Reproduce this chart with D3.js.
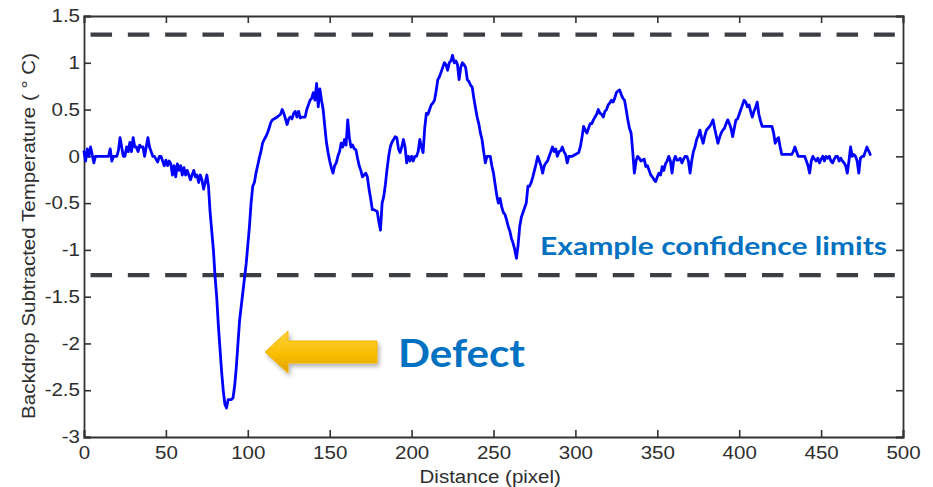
<!DOCTYPE html>
<html>
<head>
<meta charset="utf-8">
<script src="https://cdn.jsdelivr.net/npm/d3@7"></script>
<style>
  html, body { margin: 0; padding: 0; background: #fff; }
  svg { display: block; }
</style>
</head>
<body>
<svg id="chart" width="933" height="487"></svg>
<script>
// ---------------- data ----------------
const distance = [
  0,1,2,3,4,5,6,7,8,10,12,14,15,16,17,18,20,21,22,23,24,25,26,27,28,29,30,31,32,33,34,35,36,37,38,39,40,
  41,42,43,45,46,47,48,49,50,51,52,53,54,55,56,57,58,59,60,61,62,63,64,65,66,67,68,69,70,71,72,73,74,75,
  76,77,78,79,80,81,82,83,84,85,86,87,88,90,91,92,93,94,95,96,97,98,99,100,101,102,103,104,105,106,107,
  108,109,110,111,112,113,114,115,116,118,120,121,122,123,124,125,126,127,128,129,130,131,132,133,135,
  136,137,138,139,140,141,142,143,144,145,146,147,148,149,150,151,152,153,154,155,156,157,158,159,160,
  161,162,163,164,165,166,167,168,169,170,171,172,173,174,175,176,177,178,179,180,181,182,183,184,185,
  186,187,188,189,190,191,192,193,194,195,196,197,198,199,200,201,202,203,204,205,206,207,208,209,210,
  211,212,213,214,215,216,217,218,219,220,221,222,223,224,225,226,227,228,229,230,231,232,233,234,235,
  236,237,238,239,240,241,242,243,244,245,246,247,248,249,250,251,252,253,254,255,256,257,258,259,260,
  261,262,263,264,265,266,267,268,269,270,271,272,273,274,275,276,277,278,279,280,281,282,283,284,285,
  286,287,288,289,290,291,292,293,294,295,296,297,298,300,302,303,304,305,306,307,308,309,310,311,312,
  313,314,315,316,317,318,319,320,321,322,323,324,325,326,327,328,329,330,331,332,333,334,335,336,337,
  338,339,340,341,342,343,344,345,346,347,348,349,350,351,352,353,354,355,356,357,358,359,360,361,362,
  363,364,365,366,367,368,369,370,371,372,373,374,375,376,377,378,379,380,381,382,383,384,385,386,387,
  388,389,390,391,392,393,394,395,396,397,398,399,400,401,402,403,404,405,406,407,408,409,410,411,412,
  413,414,416,418,420,421,422,423,424,425,426,428,430,432,433,434,435,436,437,438,439,440,441,442,443,
  444,445,446,447,448,449,450,451,452,453,454,455,456,457,458,459,460,461,462,463,464,465,466,467,468,
  469,470,471,472,473,474,475,476,477,478,479,480
];
const temperature = [
  0.05,-0.05,0.08,0.0,0.1,0.02,-0.07,0.0,0.0,0.0,0.0,0.0,0.0,0.08,-0.05,0.0,0.0,0.06,0.2,0.1,0.0,0.0,0.1,0.05,0.15,0.05,0.2,0.1,0.1,0.05,0.12,0.1,0.1,0.0,0.1,0.2,0.1,
  0.05,0.0,0.0,-0.06,0.0,0.0,-0.05,-0.1,-0.04,-0.1,-0.05,-0.08,-0.2,-0.1,-0.22,-0.08,-0.15,-0.1,-0.2,-0.12,-0.2,-0.15,-0.2,-0.25,-0.2,-0.15,-0.22,-0.2,-0.28,-0.2,-0.25,-0.35,-0.28,-0.2,
  -0.32,-0.6,-0.8,-1.0,-1.28,-1.5,-1.8,-2.05,-2.3,-2.5,-2.65,-2.69,-2.6,-2.6,-2.58,-2.45,-2.25,-2.0,-1.75,-1.6,-1.45,-1.3,-1.15,-0.95,-0.75,-0.5,-0.32,-0.28,-0.18,-0.1,-0.02,
  0.05,0.14,0.18,0.21,0.25,0.3,0.36,0.39,0.4,0.42,0.45,0.5,0.46,0.4,0.34,0.4,0.42,0.4,0.46,0.48,0.42,0.48,0.41,0.42,0.42,
  0.5,0.55,0.6,0.62,0.68,0.6,0.78,0.53,0.72,0.6,0.5,0.32,0.15,0.04,-0.05,-0.12,-0.18,-0.1,-0.07,0.0,0.05,0.14,0.1,0.18,0.12,
  0.39,0.2,0.1,0.12,0.08,0.07,-0.02,-0.1,-0.15,-0.22,-0.2,-0.18,-0.22,-0.35,-0.45,-0.57,-0.57,-0.58,-0.59,-0.7,-0.79,-0.5,-0.43,-0.3,-0.14,
  0.0,0.1,0.15,0.18,0.21,0.2,0.08,0.04,0.1,0.18,0.1,-0.07,0.0,-0.05,0.0,-0.05,0.0,0.0,0.05,0.18,0.1,0.04,0.3,0.46,0.45,
  0.5,0.55,0.57,0.6,0.7,0.82,0.85,0.9,0.95,1.0,0.98,0.92,1.0,1.02,1.08,1.0,1.02,0.98,0.82,0.95,1.0,0.98,0.95,0.82,0.8,
  0.76,0.74,0.62,0.52,0.42,0.35,0.25,0.18,0.05,-0.07,0.0,0.0,0.0,-0.1,-0.18,-0.3,-0.42,-0.5,-0.45,-0.54,-0.6,-0.62,-0.68,-0.75,-0.8,
  -0.88,-0.93,-1.0,-1.09,-0.95,-0.75,-0.65,-0.6,-0.55,-0.5,-0.32,-0.32,-0.28,-0.22,-0.15,-0.08,0.0,-0.05,-0.1,-0.18,-0.1,-0.07,-0.05,0.0,0.05,
  0.1,0.05,0.08,0.0,0.05,0.06,0.1,0.05,0.02,-0.07,0.0,0.0,0.0,0.02,0.04,0.1,0.2,0.32,0.28,0.25,0.3,0.35,0.35,0.39,0.42,
  0.45,0.5,0.46,0.45,0.42,0.48,0.5,0.55,0.57,0.6,0.58,0.62,0.68,0.7,0.71,0.66,0.62,0.6,0.5,0.39,0.3,0.25,0.05,-0.18,-0.05,
  0.0,-0.02,-0.05,-0.04,-0.03,-0.11,-0.1,-0.15,-0.2,-0.22,-0.25,-0.27,-0.22,-0.18,-0.2,-0.11,-0.15,-0.08,-0.05,0.0,-0.05,-0.18,-0.05,0.0,-0.04,
  -0.04,-0.02,-0.07,-0.03,0.0,0.0,-0.05,-0.18,-0.05,0.05,0.1,0.18,0.22,0.28,0.2,0.14,0.22,0.28,0.3,0.32,0.35,0.39,0.3,0.22,0.14,
  0.2,0.25,0.28,0.3,0.35,0.39,0.35,0.3,0.21,0.3,0.39,0.4,0.45,0.5,0.55,0.6,0.58,0.53,0.55,0.48,0.42,0.48,0.52,0.58,0.45,
  0.38,0.32,0.32,0.32,0.32,0.25,0.14,0.18,0.2,0.1,0.02,0.02,0.02,0.02,0.05,0.1,0.05,0.0,0.0,0.0,0.0,0.0,-0.05,-0.1,-0.18,
  -0.05,0.0,-0.03,-0.05,-0.02,-0.07,-0.03,0.0,-0.05,0.0,-0.02,0.0,-0.05,-0.07,-0.03,0.0,0.0,-0.05,-0.02,-0.05,-0.07,-0.1,-0.18,-0.05,0.1,
  0.0,0.02,0.0,-0.05,-0.18,-0.02,0.0,0.0,0.05,0.1,0.06,0.02
];
const xTicks = [0, 50, 100, 150, 200, 250, 300, 350, 400, 450, 500];
const yTicks = [-3, -2.5, -2, -1.5, -1, -0.5, 0, 0.5, 1, 1.5];
const confidenceLimits = [1.3, -1.27];
const limitExtent = [4, 495];
const xLabel = "Distance (pixel)";
const yLabel = "Backdrop Subtracted Temperature ( ° C)";
const limitNote = "Example confidence limits";
const defectNote = "Defect";

// ---------------- layout ----------------
const W = 933, H = 487;
const margin = { left: 84, right: 30, top: 16, bottom: 50 };
const svg = d3.select("#chart");

const x = d3.scaleLinear().domain([0, 500]).range([margin.left, W - margin.right]);
const y = d3.scaleLinear().domain([-3, 1.5]).range([H - margin.bottom, margin.top]);

const axisColor = "#333";
const textColor = "#2e2e2e";
const tickLen = 7;
const stretch = 1.14;

function stretchText(sel) {
  sel.each(function () {
    const len = this.getComputedTextLength();
    d3.select(this).attr("textLength", len * stretch).attr("lengthAdjust", "spacingAndGlyphs");
  });
}

// defs: arrow gradient + shadow
const defs = svg.append("defs");
const grad = defs.append("linearGradient").attr("id", "arrowGrad")
  .attr("x1", 0).attr("y1", 0).attr("x2", 0).attr("y2", 1);
grad.append("stop").attr("offset", "0%").attr("stop-color", "#FFD23F");
grad.append("stop").attr("offset", "55%").attr("stop-color", "#F9BE00");
grad.append("stop").attr("offset", "100%").attr("stop-color", "#E2A000");
const filt = defs.append("filter").attr("id", "shadow").attr("x", "-20%").attr("y", "-30%").attr("width", "150%").attr("height", "180%");
filt.append("feDropShadow").attr("dx", 2).attr("dy", 3).attr("stdDeviation", 2)
  .attr("flood-color", "#000").attr("flood-opacity", 0.3);

// axes (ticks inside, MATLAB style)
const fontFam = "'Liberation Sans', Arial, Helvetica, sans-serif";

const gx = svg.append("g").attr("transform", `translate(0,${y(-3)})`)
  .call(d3.axisBottom(x).tickValues(xTicks).tickSize(-tickLen).tickPadding(9).tickFormat(d3.format("d")));
const gxTop = svg.append("g").attr("transform", `translate(0,${y(1.5)})`)
  .call(d3.axisTop(x).tickValues(xTicks).tickSize(-tickLen).tickFormat(""));
const gy = svg.append("g").attr("transform", `translate(${x(0)},0)`)
  .call(d3.axisLeft(y).tickValues(yTicks).tickSize(-tickLen).tickPadding(6).tickFormat(d => String(d)));
const gyRight = svg.append("g").attr("transform", `translate(${x(500)},0)`)
  .call(d3.axisRight(y).tickValues(yTicks).tickSize(-tickLen).tickFormat(""));

[gx, gxTop, gy, gyRight].forEach(g => {
  g.select(".domain").attr("stroke", axisColor).attr("stroke-width", 1.8);
  g.selectAll(".tick line").attr("stroke", axisColor).attr("stroke-width", 1.6);
  g.selectAll(".tick text").attr("fill", textColor).style("font-family", fontFam).style("font-size", "18px");
});
gy.selectAll(".tick text").attr("dx", 2);
gx.selectAll(".tick text").attr("dy", "0.74em");
stretchText(gx.selectAll(".tick text"));
stretchText(gy.selectAll(".tick text"));

// axis labels
const xl = svg.append("text").attr("x", x(248)).attr("y", 483).attr("text-anchor", "middle")
  .attr("fill", textColor).style("font-family", fontFam).style("font-size", "18px").text(xLabel);
stretchText(xl);
const yl = svg.append("text").attr("transform", `translate(35,${236}) rotate(-90)`).attr("text-anchor", "middle")
  .attr("fill", textColor).style("font-family", fontFam).style("font-size", "18px").text(yLabel);
stretchText(yl);

// confidence limit dashed lines
svg.append("g").selectAll("line").data(confidenceLimits).join("line")
  .attr("x1", x(limitExtent[0])).attr("x2", x(limitExtent[1]))
  .attr("y1", d => y(d)).attr("y2", d => y(d))
  .attr("stroke", "#3b3f44").attr("stroke-width", 4.2)
  .attr("stroke-dasharray", "21.5,15.8");

// data line
const line = d3.line().x((d, i) => x(distance[i])).y((d, i) => y(temperature[i]));
svg.append("path").datum(temperature).attr("d", line)
  .attr("fill", "none").attr("stroke", "#0000ff").attr("stroke-width", 2.8)
  .attr("stroke-linejoin", "round").attr("stroke-linecap", "round");

// annotations
const noteFont = "Lato, 'Open Sans', Calibri, sans-serif";
svg.append("text").attr("x", 540).attr("y", 255)
  .attr("fill", "#0072C1").style("font-family", noteFont).style("font-weight", "bold").style("font-size", "25px")
  .attr("textLength", 347).attr("lengthAdjust", "spacingAndGlyphs").text(limitNote);

svg.append("text").attr("x", 398).attr("y", 367)
  .attr("fill", "#0072C1").style("font-family", noteFont).style("font-weight", "bold").style("font-size", "39px")
  .attr("textLength", 127).attr("lengthAdjust", "spacingAndGlyphs").text(defectNote);

// block arrow pointing left at the defect
const ax = 265, ay = 352;
const arrowPts = [[ax, ay], [ax + 23, ay - 21], [ax + 23, ay - 11], [ax + 112, ay - 11],
                  [ax + 112, ay + 11], [ax + 23, ay + 11], [ax + 23, ay + 21]];
svg.append("path").attr("d", d3.line()(arrowPts) + "Z")
  .attr("fill", "url(#arrowGrad)").attr("stroke", "#F2B400").attr("stroke-width", 1)
  .attr("filter", "url(#shadow)");
</script>
</body>
</html>
